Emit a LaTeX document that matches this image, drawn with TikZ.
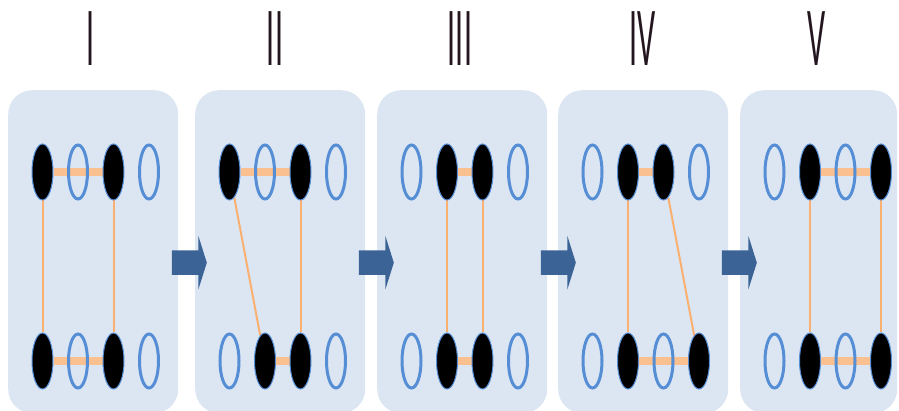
\documentclass[tikz,border=0pt]{standalone}
\usepackage{fontspec}
\setmainfont{Carlito}
\usetikzlibrary{shapes.geometric,shapes.arrows}
\definecolor{panelblue}{HTML}{DCE6F2}
\definecolor{ringblue}{HTML}{558ED5}
\definecolor{bondorange}{HTML}{FAC08F}
\definecolor{linkorange}{HTML}{F9B070}
\definecolor{flowblue}{HTML}{3B6396}
\definecolor{numink}{HTML}{24161E}
\pgfdeclarelayer{back}
\pgfdeclarelayer{mid}
\pgfsetlayers{back,mid,main}
\tikzset{
  panel/.style={rectangle, rounded corners=24pt, fill=panelblue, minimum width=170pt, minimum height=323pt, inner sep=0pt, anchor=north west},
  dotfull/.style={ellipse, fill=black, draw=ringblue, line width=1pt, minimum width=21pt, minimum height=56pt, inner sep=0pt},
  dotempty/.style={ellipse, draw=ringblue, line width=3pt, minimum width=19pt, minimum height=54pt, inner sep=0pt},
  bond/.style={bondorange, line width=8pt},
  link/.style={linkorange, line width=2pt},
  flow/.style={single arrow, fill=flowblue, inner xsep=0pt, inner ysep=12pt, minimum height=35pt, single arrow head extend=14.5pt, single arrow tip angle=145},
  numeral/.style={text=numink, font=\fontsize{84}{84}\selectfont, xscale=0.38, anchor=base, inner sep=0pt}
}
\begin{document}
\begin{tikzpicture}[x=1pt, y=-1pt]
\useasboundingbox (0,0) rectangle (899,411);
\begin{pgfonlayer}{back}
\draw (8,90) node[panel] (p1) {};
\draw (195,90) node[panel] (p2) {};
\draw (377,90) node[panel] (p3) {};
\draw (558,90) node[panel] (p4) {};
\draw (740,90) node[panel, minimum width=157pt] (p5) {};
\end{pgfonlayer}
% step numbers
\draw (91,66) node[numeral] (n1) {I};
\draw (275,66) node[numeral] (n2) {II};
\draw (460,66) node[numeral] (n3) {III};
\draw (643,66) node[numeral] (n4) {IV};
\draw (817,66) node[numeral] (n5) {V};
% arrows between panels
\draw (p1.east)++(9,11) node[flow] (a1) {};
\draw (p2.east)++(9,11) node[flow] (a2) {};
\draw (p3.east)++(9,11) node[flow] (a3) {};
\draw (p4.east)++(9,11) node[flow] (a4) {};
% I
\foreach \s [count=\i] in {dotfull,dotempty,dotfull,dotempty}
  \draw (p1.north west)++(35.5*\i-1,82) node[\s] (p1t\i) {};
\foreach \s [count=\i] in {dotfull,dotempty,dotfull,dotempty}
  \draw (p1.north west)++(35.5*\i-1,271) node[\s] (p1b\i) {};
% II
\foreach \s [count=\i] in {dotfull,dotempty,dotfull,dotempty}
  \draw (p2.north west)++(35.5*\i-1,82) node[\s] (p2t\i) {};
\foreach \s [count=\i] in {dotempty,dotfull,dotfull,dotempty}
  \draw (p2.north west)++(35.5*\i-1,271) node[\s] (p2b\i) {};
% III
\foreach \s [count=\i] in {dotempty,dotfull,dotfull,dotempty}
  \draw (p3.north west)++(35.5*\i-1,82) node[\s] (p3t\i) {};
\foreach \s [count=\i] in {dotempty,dotfull,dotfull,dotempty}
  \draw (p3.north west)++(35.5*\i-1,271) node[\s] (p3b\i) {};
% IV
\foreach \s [count=\i] in {dotempty,dotfull,dotfull,dotempty}
  \draw (p4.north west)++(35.5*\i-1,82) node[\s] (p4t\i) {};
\foreach \s [count=\i] in {dotempty,dotfull,dotempty,dotfull}
  \draw (p4.north west)++(35.5*\i-1,271) node[\s] (p4b\i) {};
% V
\foreach \s [count=\i] in {dotempty,dotfull,dotempty,dotfull}
  \draw (p5.north west)++(35.5*\i-1,82) node[\s] (p5t\i) {};
\foreach \s [count=\i] in {dotempty,dotfull,dotempty,dotfull}
  \draw (p5.north west)++(35.5*\i-1,271) node[\s] (p5b\i) {};
\begin{pgfonlayer}{mid}
\draw[bond] (p1t1) -- (p1t3); \draw[bond] (p1b1) -- (p1b3);
\draw[link] (p1t1) -- (p1b1); \draw[link] (p1t3) -- (p1b3);
\draw[bond] (p2t1) -- (p2t3); \draw[bond] (p2b2) -- (p2b3);
\draw[link] (p2t1) -- (p2b2); \draw[link] (p2t3) -- (p2b3);
\draw[bond] (p3t2) -- (p3t3); \draw[bond] (p3b2) -- (p3b3);
\draw[link] (p3t2) -- (p3b2); \draw[link] (p3t3) -- (p3b3);
\draw[bond] (p4t2) -- (p4t3); \draw[bond] (p4b2) -- (p4b4);
\draw[link] (p4t2) -- (p4b2); \draw[link] (p4t3) -- (p4b4);
\draw[bond] (p5t2) -- (p5t4); \draw[bond] (p5b2) -- (p5b4);
\draw[link] (p5t2) -- (p5b2); \draw[link] (p5t4) -- (p5b4);
\end{pgfonlayer}
\end{tikzpicture}
\end{document}
